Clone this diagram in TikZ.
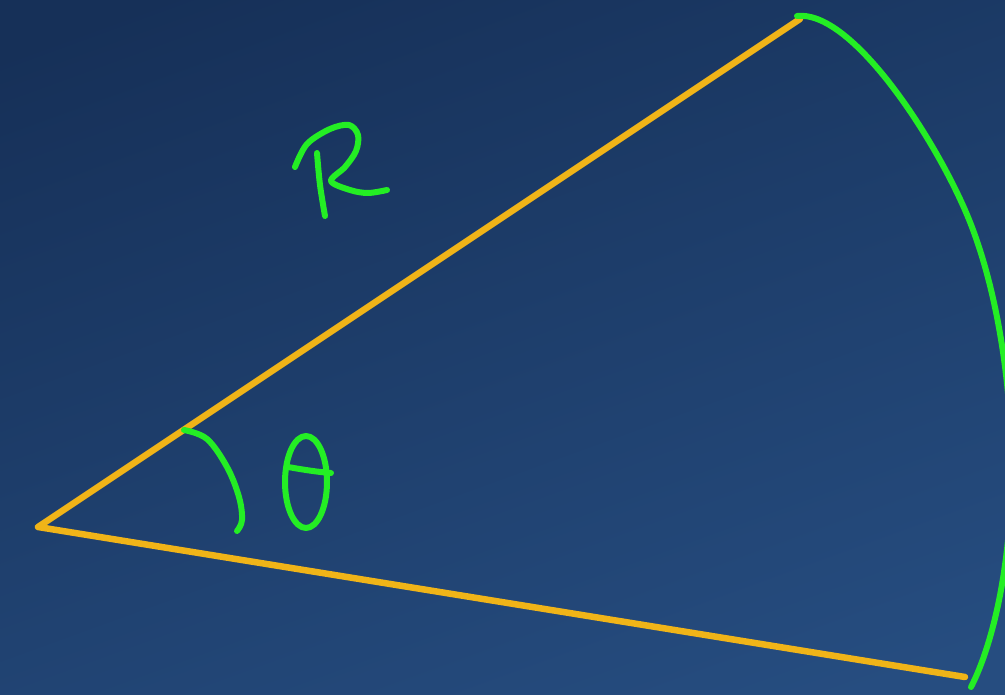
\documentclass[tikz,border=0pt]{standalone}
\definecolor{bgtop}{RGB}{22,48,88}
\definecolor{bgbot}{RGB}{38,77,128}
\definecolor{ora}{RGB}{240,180,24}
\definecolor{grn}{RGB}{36,238,36}
\tikzset{
  radiusline/.style={draw=ora, line width=6.5pt, line cap=round, line join=round},
  pen/.style={draw=grn, line width=6pt, line cap=round, line join=round}}
\begin{document}
\begin{tikzpicture}[x=1pt,y=-1pt]
\useasboundingbox (0,0) rectangle (1005,695);
\shade[top color=bgtop, bottom color=bgbot, shading angle=20] (-60,-60) rectangle (1065,755);
\coordinate (O) at (38,527);
\coordinate (A) at (800,19);
\coordinate (B) at (965,677);
\draw[radiusline] (A) -- (O) -- (B);
% big arc
\draw[pen] (797,16) .. controls (850,10) and (930,130) .. (965,210)
  .. controls (1000,290) and (1020,420) .. (1008,540)
  .. controls (1001,610) and (985,660) .. (971,687);
% small angle arc
\draw[pen] plot[smooth, tension=0.6] coordinates {(184,430) (207,439) (227,467) (239,497) (242,520) (237,531)};
% R
\draw[pen] plot[smooth, tension=0.55] coordinates {(317,153) (320,185) (325,216)};
\draw[pen] plot[smooth, tension=0.55] coordinates {(295,167) (307,144) (330,129) (349,125) (358,135) (356,151) (345,167) (331,181) (350,190) (368,193) (387,190)};
% theta
\draw[pen] (306,482) ellipse [x radius=21, y radius=46];
\draw[pen] (288,467) .. controls (305,470) and (318,472) .. (331,473);
\end{tikzpicture}
\end{document}
